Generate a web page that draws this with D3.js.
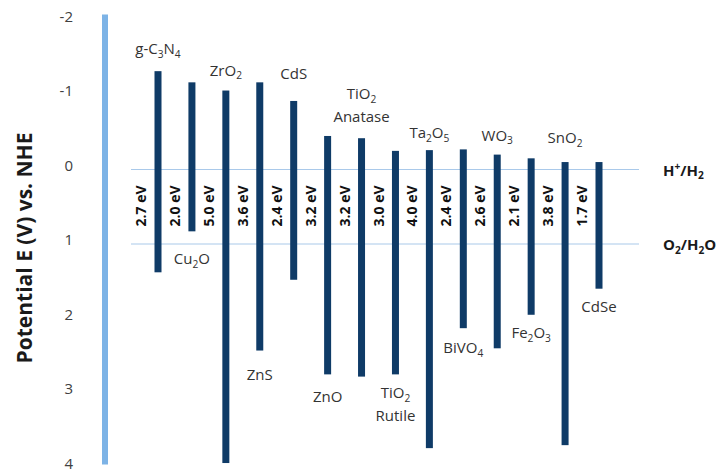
<!DOCTYPE html>
<html>
<head>
<meta charset="utf-8">
<script src="https://cdn.jsdelivr.net/npm/d3@7"></script>
<style>
  html, body { margin: 0; padding: 0; background: #ffffff; }
  svg { display: block; font-family: "Open Sans", "DejaVu Sans", sans-serif; }
</style>
</head>
<body>
<svg id="chart" width="728" height="475"></svg>
<script>
// Band edge positions of common photocatalysts (V vs. NHE)
// "_x" marks a subscript character, "^x" a superscript, "\n" a line break.
const materials = ["g-C_3N_4", "Cu_2O", "ZrO_2", "ZnS", "CdS", "ZnO", "TiO_2\nAnatase",
                   "TiO_2\nRutile", "Ta_2O_5", "BiVO_4", "WO_3", "Fe_2O_3", "SnO_2", "CdSe"];
const conductionBand = [-1.32, -1.17, -1.06, -1.17, -0.92, -0.45, -0.42,
                        -0.25, -0.26, -0.27, -0.20, -0.15, -0.10, -0.10];
const bandGap = [2.7, 2.0, 5.0, 3.6, 2.4, 3.2, 3.2, 3.0, 4.0, 2.4, 2.6, 2.1, 3.8, 1.7];
const labelSide = ["top", "bottom", "top", "bottom", "top", "bottom", "top",
                   "bottom", "top", "bottom", "top", "bottom", "top", "bottom"];

// Water redox levels
const redoxNames = ["H^+/H_2", "O_2/H_2O"];
const redoxLevels = [0, 1];

const yTicks = [-2, -1, 0, 1, 2, 3, 4];
const yTitle = "Potential E (V) vs. NHE";

const svg = d3.select("#chart");

const y = d3.scaleLinear().domain([-2, 4]).range([20.5, 467.5]);
const x = d3.scalePoint().domain(d3.range(materials.length)).range([158, 599]);

const barColor = "#0f3b67";
const axisColor = "#7db3e6";
const levelColor = "#a9c9ea";

// Writes a string with sub/superscripts into a <text> element as tspans
function richText(textSel, str, size) {
  const parts = [];
  for (let i = 0; i < str.length; i++) {
    const c = str[i];
    if ((c === "_" || c === "^") && i + 1 < str.length) {
      parts.push({ t: str[i + 1], mode: c });
      i++;
    } else if (parts.length && parts[parts.length - 1].mode === "n") {
      parts[parts.length - 1].t += c;
    } else {
      parts.push({ t: c, mode: "n" });
    }
  }
  let shift = 0;
  parts.forEach(p => {
    const target = p.mode === "_" ? size * 0.25 : p.mode === "^" ? -size * 0.38 : 0;
    textSel.append("tspan")
      .attr("dy", target - shift)
      .attr("font-size", p.mode === "n" ? size : size * 0.68)
      .text(p.t);
    shift = target;
  });
}

// Vertical potential axis: a thick pale bar with plain numeric labels
svg.append("rect")
  .attr("x", 102).attr("width", 6)
  .attr("y", y(-2) - 6).attr("height", y(4) - y(-2) + 3)
  .attr("fill", axisColor);

const yAxis = svg.append("g")
  .attr("transform", "translate(73,0)")
  .call(d3.axisLeft(y).tickValues(yTicks).tickSize(0).tickPadding(0).tickFormat(d => String(d)));
yAxis.select(".domain").remove();
yAxis.selectAll("text")
  .attr("font-family", "\"Open Sans\", sans-serif")
  .attr("font-size", 15)
  .attr("fill", "#404040")
  .attr("transform", "translate(0,-4)");

svg.append("text")
  .attr("transform", `translate(32,${248}) rotate(-90)`)
  .attr("text-anchor", "middle")
  .attr("font-size", 21)
  .attr("font-weight", "bold")
  .attr("fill", "#1a1a1a")
  .text(yTitle);

// Redox reference lines
redoxLevels.forEach((v, i) => {
  svg.append("line")
    .attr("x1", 131).attr("x2", 639)
    .attr("y1", y(v)).attr("y2", y(v))
    .attr("stroke", levelColor).attr("stroke-width", 1.2);
  const t = svg.append("text")
    .attr("x", 663).attr("y", y(v) + 6)
    .attr("font-weight", "bold")
    .attr("fill", "#1a1a1a");
  richText(t, redoxNames[i], 15);
});

// Band bars: from conduction band edge down to valence band edge
const bars = materials.map((m, i) => ({
  name: m, cb: conductionBand[i], gap: bandGap[i],
  vb: conductionBand[i] + bandGap[i], side: labelSide[i], i
}));

svg.selectAll("rect.band").data(bars).join("rect")
  .attr("class", "band")
  .attr("x", d => x(d.i) - 3.5)
  .attr("width", 7)
  .attr("y", d => y(d.cb))
  .attr("height", d => y(d.vb) - y(d.cb))
  .attr("fill", barColor);

// Band gap labels, rotated, beside each bar
svg.selectAll("text.gap").data(bars).join("text")
  .attr("class", "gap")
  .attr("transform", d => `translate(${x(d.i) - 17},${206}) rotate(-90)`)
  .attr("text-anchor", "middle")
  .attr("dy", "0.36em")
  .attr("font-size", 14)
  .attr("font-weight", "bold")
  .attr("fill", "#111")
  .text(d => d3.format(".1f")(d.gap) + " eV");

// Material names above or below their bars
const nameGap = { 0: 17, 1: 33, 2: 15, 3: 29, 4: 22, 5: 28, 6: 16, 7: 24,
                  8: 12, 9: 25, 10: 14, 11: 23, 12: 19, 13: 23 };
const lineStep = 23;
bars.forEach(d => {
  const lines = d.name.split("\n");
  lines.forEach((line, k) => {
    let baseY;
    if (d.side === "top") {
      baseY = y(d.cb) - nameGap[d.i] - (lines.length - 1 - k) * lineStep;
    } else {
      baseY = y(d.vb) + nameGap[d.i] + k * lineStep;
    }
    const t = svg.append("text")
      .attr("x", x(d.i))
      .attr("y", baseY)
      .attr("text-anchor", "middle")
      .attr("fill", "#333");
    richText(t, line, 15);
  });
});
</script>
</body>
</html>
